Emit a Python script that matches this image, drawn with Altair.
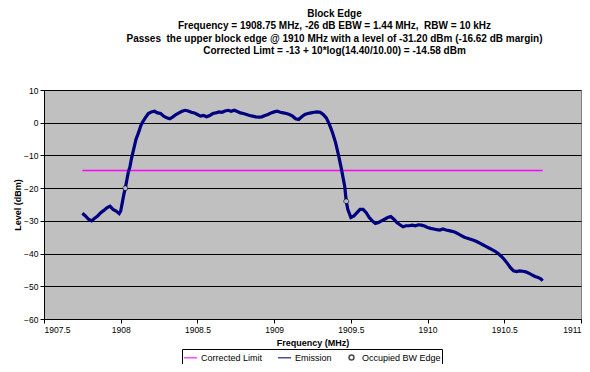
import altair as alt
import pandas as pd

# Emission trace (MHz, dBm)
freq = [1907.75, 1907.77, 1907.79, 1907.81, 1907.83, 1907.85, 1907.87, 1907.89, 1907.91, 1907.93,
        1907.95, 1907.97, 1907.99, 1908.00, 1908.01, 1908.02, 1908.03, 1908.04, 1908.05, 1908.06,
        1908.07, 1908.08, 1908.09, 1908.10, 1908.11, 1908.12, 1908.13, 1908.14, 1908.16, 1908.18,
        1908.20, 1908.22, 1908.24, 1908.26, 1908.28, 1908.30, 1908.32, 1908.34, 1908.36, 1908.38,
        1908.40, 1908.42, 1908.44, 1908.46, 1908.48, 1908.50, 1908.52, 1908.54, 1908.56, 1908.58,
        1908.60, 1908.62, 1908.64, 1908.66, 1908.68, 1908.70, 1908.72, 1908.74, 1908.76, 1908.78,
        1908.80, 1908.82, 1908.84, 1908.86, 1908.88, 1908.90, 1908.92, 1908.94, 1908.96, 1908.98,
        1909.00, 1909.02, 1909.04, 1909.06, 1909.08, 1909.10, 1909.12, 1909.14, 1909.16, 1909.18,
        1909.20, 1909.22, 1909.24, 1909.26, 1909.28, 1909.30, 1909.32, 1909.34, 1909.36, 1909.38,
        1909.40, 1909.42, 1909.44, 1909.46, 1909.47, 1909.48, 1909.50, 1909.52, 1909.54, 1909.56,
        1909.58, 1909.60, 1909.62, 1909.64, 1909.66, 1909.68, 1909.70, 1909.72, 1909.74, 1909.76,
        1909.78, 1909.80, 1909.82, 1909.84, 1909.86, 1909.88, 1909.90, 1909.92, 1909.94, 1909.96,
        1909.98, 1910.00, 1910.02, 1910.04, 1910.06, 1910.08, 1910.10, 1910.12, 1910.14, 1910.16,
        1910.18, 1910.20, 1910.22, 1910.24, 1910.26, 1910.28, 1910.30, 1910.32, 1910.34, 1910.36,
        1910.38, 1910.40, 1910.42, 1910.44, 1910.46, 1910.48, 1910.50, 1910.52, 1910.54, 1910.56,
        1910.58, 1910.60, 1910.62, 1910.64, 1910.66, 1910.68, 1910.70, 1910.72, 1910.74, 1910.75]
level = [-27.7, -28.5, -29.5, -30.0, -29.2, -28.5, -27.5, -26.8, -26.0, -25.5,
         -26.5, -27.0, -27.8, -27.0, -24.5, -22.0, -20.0, -17.5, -15.0, -13.5,
         -11.0, -9.0, -7.0, -5.0, -3.8, -2.5, -1.0, 0.0, 1.5, 2.8,
         3.3, 3.5, 3.0, 2.8, 2.0, 1.5, 1.2, 1.8, 2.5, 3.0,
         3.5, 3.8, 3.6, 3.2, 3.0, 2.5, 2.0, 2.2, 1.8, 2.2,
         2.8, 3.0, 3.3, 3.2, 3.6, 3.8, 3.5, 3.8, 3.4, 3.0,
         2.8, 2.5, 2.2, 2.0, 1.8, 1.7, 1.8, 2.2, 2.5, 3.0,
         3.3, 3.5, 3.2, 3.0, 2.8, 2.5, 2.0, 1.2, 1.0, 1.8,
         2.5, 2.8, 3.0, 3.2, 3.3, 3.2, 2.5, 1.5, -0.5, -3.0,
         -6.0, -10.0, -14.5, -19.5, -24.0, -26.5, -29.0, -28.5, -27.5, -26.5,
         -26.5, -27.5, -29.0, -30.0, -30.8, -30.5, -30.0, -29.5, -29.0, -28.7,
         -29.5, -30.5, -31.2, -31.8, -31.5, -31.5, -31.3, -31.5, -31.2, -31.3,
         -31.6, -32.0, -32.3, -32.5, -32.7, -32.8, -32.5, -32.8, -33.0, -33.2,
         -33.5, -34.0, -34.5, -35.0, -35.3, -35.6, -35.9, -36.3, -36.8, -37.3,
         -37.8, -38.3, -38.8, -39.3, -40.0, -40.8, -41.8, -43.0, -44.3, -45.3,
         -45.5, -45.3, -45.4, -45.6, -46.0, -46.5, -47.0, -47.3, -47.8, -48.3]

limit_freq = [1907.75, 1910.75]
limit_level = [-14.58, -14.58]

edge_freq = [1908.03, 1909.47]
edge_level = [-20.0, -24.0]

series_names = ["Corrected Limit", "Emission", "Occupied BW Edge"]
series_colors = ["#FF00FF", "#000080", "#000000"]

title_lines = [
    "Block Edge",
    "Frequency = 1908.75 MHz, -26 dB EBW = 1.44 MHz,\u00a0 RBW = 10 kHz",
    "Passes\u00a0 the upper block edge @ 1910 MHz with a level of -31.20 dBm (-16.62 dB margin)",
    "Corrected Limt = -13 + 10*log(14.40/10.00) = -14.58 dBm",
]

emis_df = pd.DataFrame({"f": freq, "v": level, "s": "Emission"})
lim_df = pd.DataFrame({"f": limit_freq, "v": limit_level, "s": "Corrected Limit"})
edge_df = pd.DataFrame({"f": edge_freq, "v": edge_level, "s": "Occupied BW Edge"})

FONT = "Liberation Sans"
SMALL_CIRCLE = "M-0.38,0A0.38,0.38 0 1,0 0.38,0A0.38,0.38 0 1,0 -0.38,0Z"

leg = alt.Legend(orient="none", legendX=138, legendY=259, direction="horizontal",
                 title=None, strokeColor="black", padding=1, labelFontSize=9,
                 labelFont=FONT, labelColor="black", symbolStrokeWidth=1.5,
                 symbolSize=169, columnPadding=12, labelOffset=3, fillColor="white")

x_enc = alt.X("f:Q", scale=alt.Scale(domain=[1907.5, 1911], nice=False, zero=False),
              axis=alt.Axis(values=[1907.5, 1908, 1908.5, 1909, 1909.5, 1910, 1910.5, 1911],
                            format=".6~g", grid=False, title="Frequency (MHz)",
                            titlePadding=5))
y_enc = alt.Y("v:Q", scale=alt.Scale(domain=[-60, 10], nice=False),
              axis=alt.Axis(values=list(range(-60, 11, 10)), grid=True, title="Level (dBm)",
                            titlePadding=1))

color_scale = alt.Scale(domain=series_names, range=series_colors)
shape_scale = alt.Scale(domain=series_names, range=["stroke", "stroke", SMALL_CIRCLE])

lim = alt.Chart(lim_df).mark_line(strokeWidth=1.5).encode(
    x=x_enc, y=y_enc, color=alt.Color("s:N", scale=color_scale, legend=leg))
emis = alt.Chart(emis_df).mark_line(strokeWidth=3.2).encode(
    x=x_enc, y=y_enc, color=alt.Color("s:N", scale=color_scale, legend=leg))
edge = alt.Chart(edge_df).mark_point(filled=False, strokeWidth=1, size=169).encode(
    x=x_enc, y=y_enc,
    color=alt.Color("s:N", scale=color_scale, legend=leg),
    shape=alt.Shape("s:N", scale=shape_scale, legend=leg),
    fill=alt.value("white"))

chart = alt.layer(lim, emis, edge).properties(
    width=537, height=229,
    padding={"left": 36, "top": 82, "right": 1, "bottom": 45},
    autosize=alt.AutoSizeParams(type="none"),
    title=alt.TitleParams(text=title_lines, fontSize=10, font=FONT, fontWeight="bold",
                          lineHeight=12.5, offset=30, anchor="middle", dx=22, color="black"),
).configure_view(
    fill="#C0C0C0", stroke="#808080", strokeWidth=1
).configure_axis(
    labelFont=FONT, labelFontSize=8.5, labelColor="black",
    titleFont=FONT, titleFontSize=9, titleFontWeight="bold", titleColor="black",
    domainColor="black", tickColor="black", tickSize=4, labelPadding=2,
    gridColor="black", gridWidth=1, gridOpacity=1
)

chart.save("out.html", embed_options={"renderer": "svg", "actions": False})
